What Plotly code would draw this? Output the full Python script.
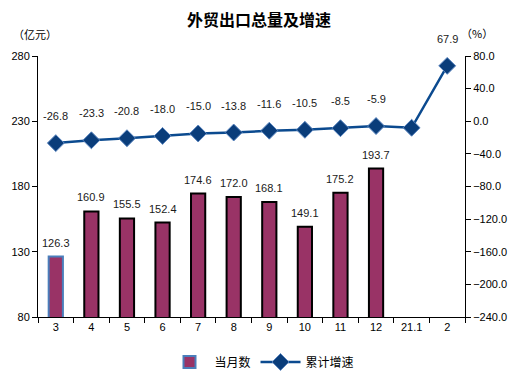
import plotly.graph_objects as go

categories = ["3", "4", "5", "6", "7", "8", "9", "10", "11", "12", "21.1", "2"]
monthly = [126.3, 160.9, 155.5, 152.4, 174.6, 172.0, 168.1, 149.1, 175.2, 193.7, None, None]
growth = [-26.8, -23.3, -20.8, -18.0, -15.0, -13.8, -11.6, -10.5, -8.5, -5.9, -8.0, 67.9]
growth_labels = ["-26.8", "-23.3", "-20.8", "-18.0", "-15.0", "-13.8", "-11.6", "-10.5", "-8.5", "-5.9", "", "67.9"]

num_font = "Liberation Sans, Arial, sans-serif"
cjk_font = "Noto Sans CJK SC, sans-serif"

bar_line_colors = ["#4a7ebb"] + ["#000000"] * (len(categories) - 1)

# page offset (body margin) compensation
W, H = 509, 381
L, R, T, B = 30, 52, 48, 66
X0, Y1 = 38, 323  # plot left / bottom in page pixels
PW, PH = 427, 267


def px(x):
    return (x - X0) / PW


def py(y):
    return (Y1 - y) / PH


fig = go.Figure()
fig.add_trace(go.Bar(
    x=categories, y=monthly, name="当月数",
    marker=dict(color="#993366", line=dict(color=bar_line_colors, width=2)),
    yaxis="y",
))
fig.add_trace(go.Scatter(
    x=categories, y=growth, name="累计增速", mode="lines+markers",
    line=dict(color="#0b4a8f", width=2.5),
    marker=dict(symbol="diamond", size=13, color="#0a3d7a", line=dict(color="#5b86c0", width=1)),
    yaxis="y2",
))

annotations = []
for i, v in enumerate(monthly):
    if v is not None:
        annotations.append(dict(x=i, y=v, xref="x", yref="y", text=f"{v:.1f}", showarrow=False,
                                yanchor="bottom", yshift=6, font=dict(family=num_font, size=11, color="#1a1a1a")))
for i, (v, t) in enumerate(zip(growth, growth_labels)):
    if t:
        annotations.append(dict(x=i, y=v, xref="x", yref="y2", text=t, showarrow=False,
                                yanchor="bottom", yshift=19, font=dict(family=num_font, size=11, color="#1a1a1a")))
annotations.append(dict(x=px(35), y=py(33), xref="paper", yref="paper", text="（亿元）", showarrow=False,
                        xanchor="center", yanchor="middle", font=dict(family=cjk_font, size=11, color="#000")))
annotations.append(dict(x=px(477), y=py(32), xref="paper", yref="paper", text="（%）", showarrow=False,
                        xanchor="center", yanchor="middle", font=dict(family=cjk_font, size=11, color="#000")))

fig.update_layout(
    width=W, height=H,
    margin=dict(l=L, r=R, t=T, b=B),
    paper_bgcolor="white", plot_bgcolor="white",
    title=dict(text="<b>外贸出口总量及增速</b>", x=(259 - 8) / W, xanchor="center", y=1 - 12 / H, yanchor="middle",
               font=dict(family=cjk_font, size=16, color="#000")),
    bargap=0.6,
    showlegend=True,
    legend=dict(orientation="h", x=px(262), xanchor="center", y=py(369), yanchor="middle",
                font=dict(family=cjk_font, size=12, color="#000"), itemwidth=40),
    xaxis=dict(type="category", range=[-0.5, len(categories) - 0.5], automargin=False,
               showline=True, linecolor="#000", linewidth=1, ticks="outside",
               tickson="boundaries", ticklen=5, tickcolor="#000", showgrid=False,
               tickfont=dict(family=num_font, size=11, color="#000")),
    yaxis=dict(range=[80, 280], tick0=80, dtick=50, automargin=False, showline=True, linecolor="#000",
               linewidth=1, ticks="outside", ticklen=5, tickcolor="#000", showgrid=False, zeroline=False,
               tickfont=dict(family=num_font, size=11, color="#000")),
    yaxis2=dict(range=[-240, 80], tick0=0, dtick=40, overlaying="y", side="right", automargin=False,
                showline=True, linecolor="#000",
                linewidth=1, ticks="outside", ticklen=5, tickcolor="#000", showgrid=False, zeroline=False,
                tickformat=".1f", tickfont=dict(family=num_font, size=11, color="#000")),
    annotations=annotations,
)

fig.write_html("out.html")
